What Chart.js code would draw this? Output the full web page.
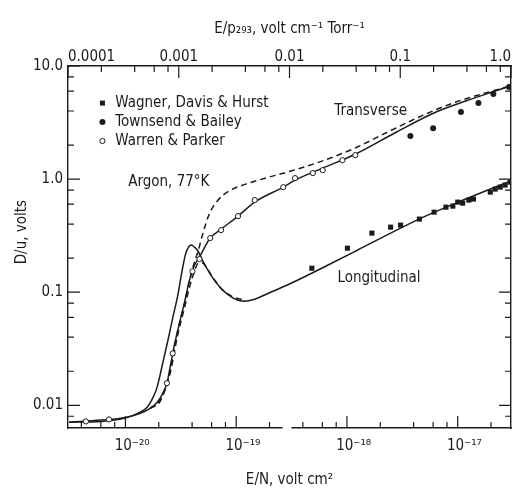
<!DOCTYPE html>
<html>
<head>
<meta charset="utf-8">
<title>D/u argon 77 K</title>
<script src="https://cdn.jsdelivr.net/npm/chart.js@4.4.1/dist/chart.umd.min.js"></script>
<style>
  html, body { margin: 0; padding: 0; background: #fff; overflow: hidden; }
  #caixa { position: relative; width: 522px; height: 488px; }
</style>
</head>
<body>
<div id="caixa"><canvas id="grafico"></canvas></div>
<script>
const FONTE = '"DejaVu Sans Condensed", "Liberation Sans", sans-serif';
const TINTA = '#1b1b1b';
const TAM = 15;

// values: E/N in volt cm^2, D/u in volts
const wagnerEN = [4.82e-19, 1.01e-18, 1.68e-18, 2.48e-18, 3.05e-18, 4.51e-18, 6.12e-18, 7.83e-18, 9.04e-18, 1.00e-17, 1.11e-17, 1.26e-17, 1.39e-17, 1.97e-17, 2.18e-17, 2.42e-17, 2.68e-17, 2.97e-17];
const wagnerD = [0.163, 0.245, 0.333, 0.376, 0.392, 0.443, 0.510, 0.565, 0.577, 0.626, 0.613, 0.652, 0.666, 0.767, 0.816, 0.849, 0.885, 0.94];

const townsendEN = [3.74e-18, 6.00e-18, 1.07e-17, 1.54e-17, 2.10e-17, 2.91e-17];
const townsendD = [2.40, 2.82, 3.92, 4.71, 5.65, 6.52];

const warrenEN = [4.4e-21, 7.1e-21, 2.37e-20, 2.67e-20, 4.03e-20, 4.66e-20, 5.83e-20, 7.31e-20, 1.04e-19, 1.47e-19, 2.66e-19, 3.40e-19, 4.92e-19, 6.04e-19, 9.10e-19, 1.19e-18];
const warrenD = [0.0072, 0.0075, 0.0157, 0.0288, 0.153, 0.196, 0.301, 0.354, 0.471, 0.652, 0.849, 1.02, 1.13, 1.20, 1.47, 1.63];

const transSolidEN = [3.1e-21, 6.0e-21, 1.0e-20, 1.36e-20, 1.67e-20, 1.93e-20, 2.18e-20, 2.37e-20, 2.52e-20, 2.79e-20, 3.09e-20, 3.42e-20, 3.79e-20, 4.20e-20, 4.66e-20, 5.26e-20, 5.83e-20, 7.31e-20, 1.04e-19, 1.47e-19, 2.66e-19, 3.40e-19, 6.04e-19, 1.19e-18, 2.81e-18, 6.38e-18, 1.18e-17, 2.18e-17, 2.97e-17];
const transSolidD = [0.0071, 0.0074, 0.0078, 0.0085, 0.0094, 0.0106, 0.0128, 0.0157, 0.0212, 0.0354, 0.0543, 0.0817, 0.128, 0.173, 0.204, 0.255, 0.301, 0.361, 0.471, 0.626, 0.849, 0.98, 1.25, 1.66, 2.61, 3.92, 4.90, 6.01, 6.65];

const transDashEN = [1.67e-20, 2.05e-20, 2.52e-20, 2.96e-20, 3.42e-20, 3.79e-20, 4.20e-20, 4.56e-20, 4.95e-20, 5.71e-20, 6.73e-20, 8.61e-20, 1.22e-19, 1.59e-19, 3.13e-19, 6.29e-19, 1.24e-18, 2.43e-18, 4.89e-18, 9.62e-18, 1.78e-17, 2.97e-17];
const transDashD = [0.0094, 0.0111, 0.0196, 0.0452, 0.080, 0.128, 0.184, 0.235, 0.319, 0.490, 0.638, 0.784, 0.903, 0.98, 1.18, 1.47, 1.92, 2.66, 3.68, 4.80, 5.77, 6.65];

const longSolidEN = [3.1e-21, 6.0e-21, 1.0e-20, 1.36e-20, 1.57e-20, 1.78e-20, 1.93e-20, 2.18e-20, 2.42e-20, 2.67e-20, 2.96e-20, 3.28e-20, 3.49e-20, 3.71e-20, 3.95e-20, 4.20e-20, 4.47e-20, 4.95e-20, 5.49e-20, 6.08e-20, 7.31e-20, 9.16e-20, 1.17e-19, 1.47e-19, 1.96e-19, 3.13e-19, 6.69e-19, 1.24e-18, 2.81e-18, 4.89e-18, 9.62e-18, 1.78e-17, 2.97e-17];
const longSolidD = [0.0071, 0.0072, 0.0077, 0.0087, 0.0096, 0.0118, 0.0144, 0.0240, 0.0376, 0.0589, 0.0923, 0.163, 0.217, 0.250, 0.261, 0.250, 0.235, 0.192, 0.160, 0.136, 0.108, 0.090, 0.0832, 0.0867, 0.098, 0.120, 0.173, 0.235, 0.354, 0.461, 0.613, 0.784, 0.96];

const longDashEN = [1.67e-20, 2.05e-20, 2.52e-20, 2.96e-20, 3.42e-20, 3.79e-20, 4.20e-20, 4.56e-20, 4.95e-20, 5.49e-20, 6.33e-20, 7.31e-20, 9.16e-20, 1.17e-19];
const longDashD = [0.0094, 0.0108, 0.0188, 0.0416, 0.0736, 0.111, 0.153, 0.181, 0.181, 0.160, 0.130, 0.108, 0.092, 0.085];

// tick labels, one per decade
const bottomLabels = ['10⁻²⁰', '10⁻¹⁹', '10⁻¹⁸', '10⁻¹⁷'];   // from 1e-20
const topLabels = ['0.0001', '0.001', '0.01', '0.1', '1.0'];  // from 1e-4
const yLabels = ['0.01', '0.1', '1.0', '10.0'];               // from 1e-2

// gap in the lower axis, in E/N
const axisBreak = [2.62e-19, 3.15e-19];

const notes = [
  { text: 'Transverse', x: 7.7e-19, y: 4.0 },
  { text: 'Longitudinal', x: 8.2e-19, y: 0.133 },
  { text: 'Argon, 77°K', x: 1.06e-20, y: 0.94 }
];
const legendMarkX = 6.2e-21;
const legendTextX = 8.1e-21;
const legendItems = [
  { text: 'Wagner, Davis & Hurst', mark: 'square', y: 4.7 },
  { text: 'Townsend & Bailey', mark: 'dot', y: 3.19 },
  { text: 'Warren & Parker', mark: 'ring', y: 2.17 }
];

function pares(xs, ys) {
  return xs.map((x, i) => ({ x: x, y: ys[i] }));
}

function decada(v, labels, first) {
  const e = Math.log10(v);
  if (Math.abs(e - Math.round(e)) > 1e-6) return '';
  return labels[Math.round(e) - first] || '';
}

function curva(xs, ys, dash) {
  return {
    data: pares(xs, ys), showLine: true, pointRadius: 0, borderColor: TINTA,
    borderWidth: 1.5, borderDash: dash, fill: false, cubicInterpolationMode: 'monotone', order: 2
  };
}

function marcador(ctx, tipo, x, y) {
  ctx.beginPath();
  if (tipo === 'square') {
    ctx.fillRect(x - 2.5, y - 2.5, 5, 5);
    return;
  }
  ctx.arc(x, y, tipo === 'dot' ? 3 : 2.6, 0, Math.PI * 2);
  if (tipo === 'dot') ctx.fill();
  else { ctx.lineWidth = 1; ctx.stroke(); }
}

const moldura = {
  id: 'moldura',
  afterDraw(chart) {
    const { ctx, chartArea: area, scales } = chart;
    ctx.save();
    ctx.strokeStyle = TINTA;
    ctx.fillStyle = TINTA;
    ctx.lineWidth = 1.2;

    // tick marks pointing into the plot
    function marcas(scale, fn) {
      scale.ticks.forEach(t => {
        const e = Math.floor(Math.log10(t.value) + 1e-9);
        const m = t.value / Math.pow(10, e);
        let len = 0;
        if (Math.abs(m - 1) < 0.02) len = 12;
        else if ([2, 4, 6, 8].some(k => Math.abs(m - k) < 0.02)) len = 6;
        if (len) fn(scale.getPixelForValue(t.value), len);
      });
    }
    ctx.beginPath();
    marcas(scales.x, (p, l) => { ctx.moveTo(p, area.bottom); ctx.lineTo(p, area.bottom - l); });
    marcas(scales.x2, (p, l) => { ctx.moveTo(p, area.top); ctx.lineTo(p, area.top + l); });
    marcas(scales.y, (p, l) => { ctx.moveTo(area.left, p); ctx.lineTo(area.left + l, p); });
    marcas(scales.y2, (p, l) => { ctx.moveTo(area.right, p); ctx.lineTo(area.right - l, p); });
    ctx.stroke();

    const a = scales.x.getPixelForValue(axisBreak[0]);
    const b = scales.x.getPixelForValue(axisBreak[1]);
    ctx.fillStyle = '#fff';
    ctx.fillRect(a, area.bottom - 3, b - a, 6);
    ctx.fillStyle = TINTA;

    ctx.font = TAM + 'px ' + FONTE;
    ctx.textBaseline = 'middle';
    ctx.textAlign = 'left';
    notes.forEach(n => {
      ctx.fillText(n.text, scales.x.getPixelForValue(n.x), scales.y.getPixelForValue(n.y));
    });

    legendItems.forEach(item => {
      const py = scales.y.getPixelForValue(item.y);
      marcador(ctx, item.mark, scales.x.getPixelForValue(legendMarkX), py);
      ctx.fillText(item.text, scales.x.getPixelForValue(legendTextX), py);
    });

    ctx.translate(area.left - 46, scales.y.getPixelForValue(0.34));
    ctx.rotate(-Math.PI / 2);
    ctx.textAlign = 'center';
    ctx.fillText('D/u, volts', 0, 0);
    ctx.restore();
  }
};

Chart.defaults.font.family = FONTE;
Chart.defaults.font.size = TAM;
Chart.defaults.color = TINTA;

const semGrade = { display: false, drawTicks: false };
const borda = { display: true, color: TINTA, width: 1.4 };
const fonteTick = { size: TAM, lineHeight: 1 };

const grafico = new Chart(document.getElementById('grafico'), {
  type: 'scatter',
  data: {
    datasets: [
      { data: pares(wagnerEN, wagnerD), pointStyle: 'rect', pointRadius: 3.6, backgroundColor: TINTA, borderWidth: 0, order: 1 },
      { data: pares(townsendEN, townsendD), pointStyle: 'circle', pointRadius: 3, backgroundColor: TINTA, borderWidth: 0, order: 1 },
      { data: pares(warrenEN, warrenD), pointStyle: 'circle', pointRadius: 2.6, backgroundColor: '#fff', borderColor: TINTA, borderWidth: 1, order: 1 },
      curva(transSolidEN, transSolidD, []),
      curva(transDashEN, transDashD, [6, 4]),
      curva(longSolidEN, longSolidD, []),
      curva(longDashEN, longDashD, [6, 4])
    ]
  },
  options: {
    responsive: true,
    maintainAspectRatio: false,
    animation: false,
    events: [],
    layout: { padding: 0 },
    plugins: { legend: { display: false }, tooltip: { enabled: false } },
    scales: {
      x: {
        type: 'logarithmic', position: 'bottom', min: 3.03e-21, max: 3.03e-17,
        grid: semGrade, border: borda,
        ticks: { autoSkip: false, maxRotation: 0, minRotation: 0, padding: 11, font: fonteTick,
                 // two en spaces in front so the "10" sits on the tick, as in the original
                 callback: v => { const t = decada(v, bottomLabels, -20); return t ? '\u2002\u2002' + t : ''; } },
        title: { display: true, text: 'E/N, volt cm²', font: { size: TAM, lineHeight: 1 }, padding: 0 },
        afterFit: s => { s.height = 60; }
      },
      x2: {
        type: 'logarithmic', axis: 'x', position: 'top', min: 1e-4, max: 1,
        grid: semGrade, border: borda,
        ticks: { autoSkip: false, maxRotation: 0, minRotation: 0, padding: 1, align: 'inner', font: fonteTick,
                 callback: v => decada(v, topLabels, -4) },
        title: { display: true, text: 'E/p₂₉₃, volt cm⁻¹ Torr⁻¹', font: { size: TAM, lineHeight: 1 }, padding: { top: 22, bottom: 0 } },
        afterFit: s => { s.height = 66; }
      },
      y: {
        type: 'logarithmic', position: 'left', min: 0.0063, max: 10,
        grid: semGrade, border: borda,
        ticks: { autoSkip: false, padding: 5, font: fonteTick, callback: v => decada(v, yLabels, -2) },
        afterFit: s => { s.width = 68; }
      },
      y2: {
        type: 'logarithmic', axis: 'y', position: 'right', min: 0.0063, max: 10,
        grid: semGrade, border: borda,
        ticks: { display: false },
        afterFit: s => { s.width = 7; }
      }
    }
  },
  plugins: [moldura]
});
</script>
</body>
</html>
